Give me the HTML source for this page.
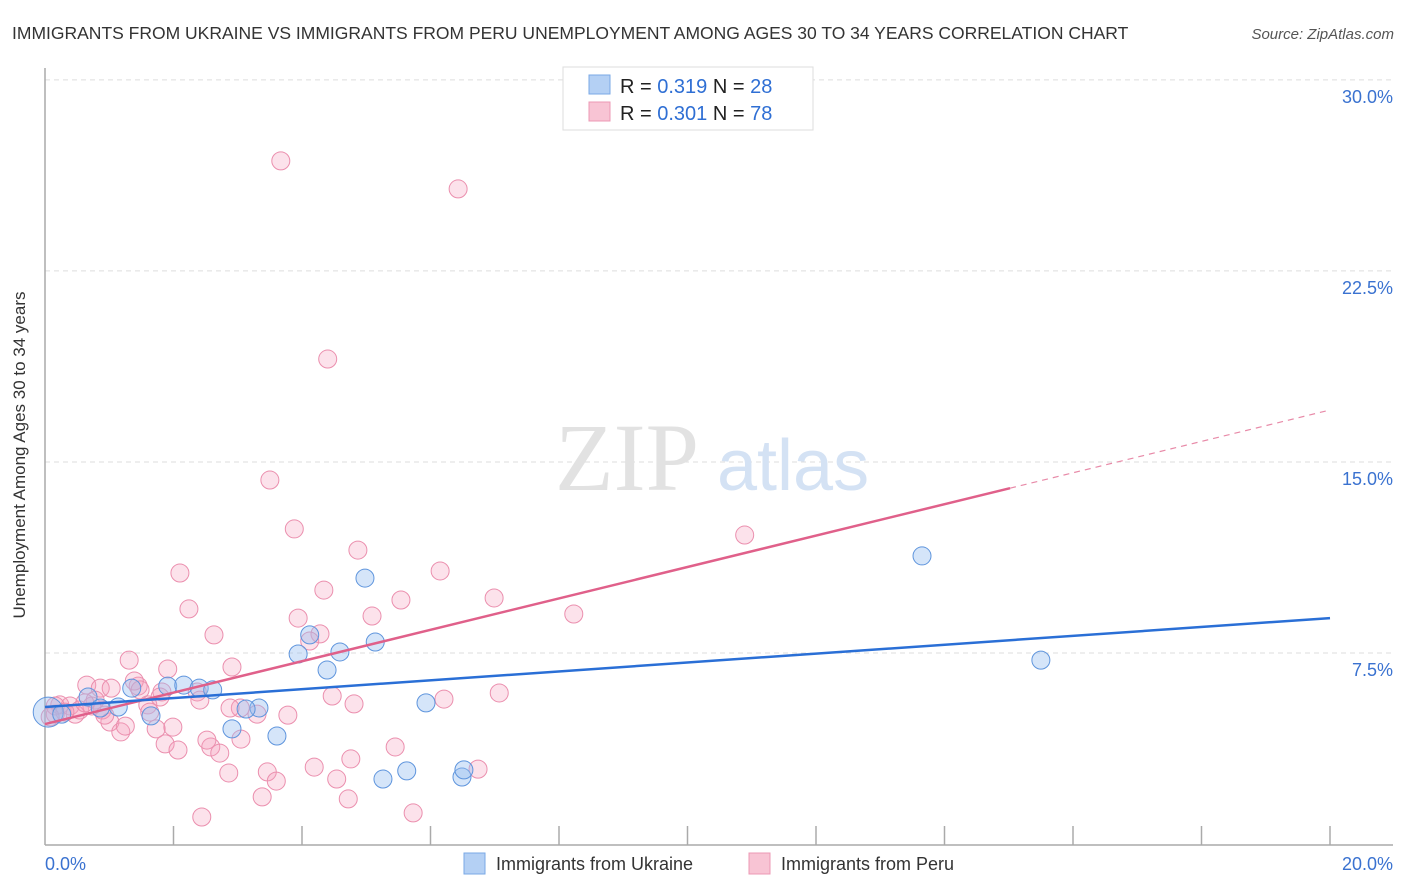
<!DOCTYPE html>
<html><head><meta charset="utf-8"><style>
body{margin:0;background:#fff;font-family:"Liberation Sans",sans-serif}
</style></head><body>
<svg width="1406" height="892" xmlns="http://www.w3.org/2000/svg" style="display:block;font-family:'Liberation Sans',sans-serif">
<text x="12" y="39" font-size="17.5" fill="#333">IMMIGRANTS FROM UKRAINE VS IMMIGRANTS FROM PERU UNEMPLOYMENT AMONG AGES 30 TO 34 YEARS CORRELATION CHART</text>
<text x="1394" y="39" font-size="15" font-style="italic" fill="#555" text-anchor="end">Source: ZipAtlas.com</text>
<g id="grid"></g>
<g><text x="555" y="490" font-family="'Liberation Serif',serif" font-size="96" fill="#e2e2e2">ZIP</text><text x="717" y="490" font-size="72" fill="#d4e2f4">atlas</text></g>
<g id="axes"></g>
<g id="pts"></g>
<g id="lines"></g>
<text x="25" y="455" font-size="17" fill="#333" text-anchor="middle" transform="rotate(-90 25 455)">Unemployment Among Ages 30 to 34 years</text>
<g>
<rect x="563" y="67" width="250" height="63" fill="#fff" stroke="#ddd"/>
<rect x="589" y="75" width="21" height="19" fill="#b4d0f4" stroke="#7aa8e6"/>
<text x="620" y="93" font-size="20" fill="#222">R = <tspan fill="#2f6fd4">0.319</tspan>   N = <tspan fill="#2f6fd4">28</tspan></text>
<rect x="589" y="102" width="21" height="19" fill="#f8c4d4" stroke="#ec98b4"/>
<text x="620" y="120" font-size="20" fill="#222">R = <tspan fill="#2f6fd4">0.301</tspan>   N = <tspan fill="#2f6fd4">78</tspan></text>
</g>
<g>
<rect x="464" y="853" width="21" height="21" fill="#b4d0f4" stroke="#7aa8e6"/>
<text x="496" y="870" font-size="18" fill="#333">Immigrants from Ukraine</text>
<rect x="749" y="853" width="21" height="21" fill="#f8c4d4" stroke="#ec98b4"/>
<text x="781" y="870" font-size="18" fill="#333">Immigrants from Peru</text>
</g>
</svg>
<script>
const yTicks=[7.5,15,22.5,30];
const yTickLabels=["7.5%","15.0%","22.5%","30.0%"];
const xTickLabels=["0.0%","20.0%"];
const ukraineX=[0.05,0.67,1.14,1.35,1.65,1.91,2.16,2.40,2.61,2.91,3.33,3.13,3.61,3.94,4.12,4.39,4.59,4.98,5.14,5.26,5.63,5.93,6.49,6.52,13.65,15.50,0.26,0.86];
const ukraineY=[5.18,5.77,5.38,6.12,5.03,6.20,6.24,6.12,6.05,4.52,5.34,5.30,4.24,7.46,8.21,6.83,7.54,10.44,7.93,2.55,2.87,5.54,2.63,2.91,11.31,7.22,5.10,5.34];
const peruX=[3.67,6.43,4.40,3.50,3.88,10.89,4.87,2.10,6.15,4.34,2.24,6.99,5.54,8.23,5.09,3.94,2.63,4.28,1.31,4.12,1.91,2.91,0.65,0.86,1.45,1.03,1.82,2.37,0.23,0.39,0.54,0.78,0.89,0.47,0.16,1.39,1.60,1.79,2.41,3.04,3.30,3.78,4.47,4.81,6.21,7.07,1.01,1.18,1.25,1.73,1.99,1.87,2.07,2.58,2.72,2.52,3.05,2.86,3.46,3.60,3.38,4.19,4.54,4.76,4.72,5.45,5.73,6.74,2.44,0.16,0.31,0.08,0.73,0.62,1.48,0.93,2.88,1.63];
const peruY=[26.82,25.72,19.04,14.29,12.37,12.13,11.54,10.64,10.72,9.97,9.23,9.66,9.58,9.03,8.95,8.87,8.21,8.25,7.22,7.97,6.87,6.95,6.24,6.12,6.20,6.12,5.97,5.97,5.46,5.42,5.26,5.65,5.26,5.10,5.10,6.40,5.46,5.77,5.65,5.34,5.10,5.06,5.81,5.50,5.69,5.93,4.79,4.40,4.63,4.52,4.59,3.93,3.69,3.81,3.57,4.08,4.12,2.79,2.83,2.47,1.85,3.02,2.55,3.34,1.77,3.81,1.22,2.94,1.06,5.42,5.18,4.99,5.42,5.54,6.05,5.06,5.34,5.18];
const ukraineFit=[5.38,8.87];
const peruFit=[4.71,17.04];
const peruSolidEnd=15.02;
const NS="http://www.w3.org/2000/svg";
const X=v=>45+v*64.25, Y=v=>844-v*25.47;
function mk(t,a,p){const e=document.createElementNS(NS,t);for(const k in a)e.setAttribute(k,a[k]);p.appendChild(e);return e;}
const grid=document.getElementById('grid'),axes=document.getElementById('axes'),pts=document.getElementById('pts'),lines=document.getElementById('lines');
yTicks.forEach((t,i)=>{
 const l=mk('line',{x1:45,x2:1393,y1:Y(t),y2:Y(t),stroke:'#ddd','stroke-dasharray':'5,4'},grid);
 
 
 const tx=mk('text',{x:1393,y:Y(t)+23,'font-size':18,fill:'#3a72d0','text-anchor':'end'},axes);
 tx.textContent=yTickLabels[i];
 
 
});
mk('line',{x1:45,x2:45,y1:68,y2:845,stroke:'#aaa','stroke-width':1.5},axes);
mk('line',{x1:45,x2:1393,y1:845,y2:845,stroke:'#aaa','stroke-width':1.5},axes);
for(let i=1;i<=10;i++){const t=mk('line',{x1:X(i*2),x2:X(i*2),y1:826,y2:845,stroke:'#aaa','stroke-width':1.5},axes);
 
 }
const x0=mk('text',{x:45,y:870,'font-size':18,fill:'#3a72d0'},axes);x0.textContent=xTickLabels[0];


const x1=mk('text',{x:1393,y:870,'font-size':18,fill:'#3a72d0','text-anchor':'end'},axes);x1.textContent=xTickLabels[1];


peruX.forEach((v,i)=>{const c=mk('circle',{cx:X(v),cy:Y(peruY[i]),r:9,fill:'rgba(244,160,190,0.3)',stroke:'#eb8fae','stroke-width':1},pts);
 
 });
ukraineX.forEach((v,i)=>{const c=mk('circle',{cx:X(v),cy:Y(ukraineY[i]),r:i==0?15:9,fill:'rgba(150,190,240,0.4)',stroke:'#5f95dd','stroke-width':1},pts);
 
 });
const pAt=v=>peruFit[0]+(peruFit[1]-peruFit[0])*v/20;
const pl=mk('line',{x1:X(0),y1:Y(peruFit[0]),x2:X(peruSolidEnd),y2:Y(pAt(peruSolidEnd)),stroke:'#e0608a','stroke-width':2.5},lines);


const pd=mk('line',{x1:X(peruSolidEnd),y1:Y(pAt(peruSolidEnd)),x2:X(20),y2:Y(peruFit[1]),stroke:'#e88aa8','stroke-width':1.2,'stroke-dasharray':'6,5'},lines);


const ul=mk('line',{x1:X(0),y1:Y(ukraineFit[0]),x2:X(20),y2:Y(ukraineFit[1]),stroke:'#2a6fd6','stroke-width':2.5},lines);


</script>
</body></html>
